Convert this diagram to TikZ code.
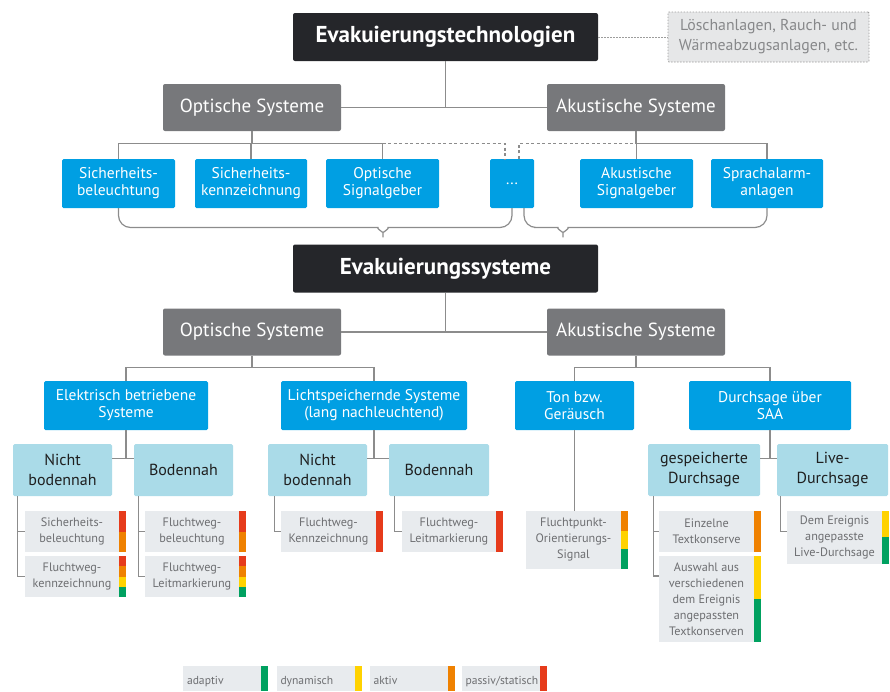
\documentclass[tikz,border=0pt]{standalone}
\usepackage{fontspec}
\setmainfont{PT Sans}
\usetikzlibrary{calc}
\definecolor{darkbox}{HTML}{25262A}
\definecolor{greybox}{HTML}{77787B}
\definecolor{techblue}{HTML}{009FE3}
\definecolor{lightbox}{HTML}{AADBE8}
\definecolor{leafbg}{HTML}{E8EBEE}
\definecolor{leaftext}{HTML}{6D6E71}
\definecolor{notebg}{HTML}{E6E7E8}
\definecolor{noteline}{HTML}{9D9D9C}
\definecolor{notetext}{HTML}{87888A}
\definecolor{connline}{HTML}{8C8C8C}
\definecolor{cred}{HTML}{E63B1B}
\definecolor{corange}{HTML}{EF8100}
\definecolor{cyellow}{HTML}{FFD200}
\definecolor{cgreen}{HTML}{00A160}
\newcommand{\ratebar}[4]{\fill[#4] ($(#1.north east)!#2!(#1.south east)$) rectangle ($(#1.north east)!#3!(#1.south east)+(7,0)$);}

\begin{document}
\begin{tikzpicture}[x=1pt,y=-1pt,
    dark/.style={fill=darkbox, rounded corners=2pt, text=white, font=\bfseries\fontsize{23}{26}\selectfont, minimum width=305pt, minimum height=48pt},
    grey/.style={fill=greybox, rounded corners=2pt, text=white, font=\fontsize{19}{22}\selectfont, minimum width=178pt, minimum height=47pt},
    tech/.style={fill=techblue, rounded corners=1.5pt, text=white, align=center, font=\fontsize{15.5}{17}\selectfont, minimum height=49pt, inner sep=1pt},
    sub/.style={fill=lightbox, rounded corners=1.5pt, text=black!88, align=center, font=\fontsize{16}{20}\selectfont, minimum height=52pt, minimum width=99pt, inner sep=1pt},
    leaf/.style={fill=leafbg, text=leaftext, align=center, font=\fontsize{12.2}{16}\selectfont, minimum width=94pt, minimum height=41pt, inner sep=0pt},
    key/.style={fill=leafbg, text=leaftext, font=\fontsize{11.6}{14}\selectfont, minimum width=77pt, minimum height=25pt, text width=70pt, inner xsep=4pt, inner ysep=0pt, text height=11pt, text depth=0pt, align=left},
    note/.style={fill=notebg, draw=noteline, line width=0.9pt, dash pattern=on 1.5pt off 1.5pt, rounded corners=1pt, text=notetext, align=center, font=\fontsize{15.8}{20}\selectfont, minimum width=201pt, minimum height=50pt},
    conn/.style={draw=connline, line width=1.2pt},
    dotline/.style={draw=noteline, line width=0.9pt, dash pattern=on 1.5pt off 1.5pt},
    dashline/.style={conn, dash pattern=on 3pt off 2.5pt}]
    \useasboundingbox (0,0) rectangle (890,691);
    % top: technologies
    \node[dark] (techn) at (445.5,37) {Evakuierungstechnologien};
    \node[note] (note) at (768.5,37) {Löschanlagen, Rauch- und\\Wärmeabzugsanlagen, etc.};
    \node[grey] (opt1) at (252,107.5) {Optische Systeme};
    \node[grey] (aku1) at (636,107.5) {Akustische Systeme};
    \node[tech, minimum width=113pt] (sb) at (118.5,183.5) {Sicherheits-\\beleuchtung};
    \node[tech, minimum width=112pt] (sk) at (251,183.5) {Sicherheits-\\kennzeichnung};
    \node[tech, minimum width=113pt] (os) at (382.5,183.5) {Optische\\Signalgeber};
    \node[tech, minimum width=44pt] (dots) at (512,183.5) {...};
    \node[tech, minimum width=113pt] (as) at (636.5,183.5) {Akustische\\Signalgeber};
    \node[tech, minimum width=112pt] (sa) at (767,183.5) {Sprachalarm-\\anlagen};
    % middle: systems
    \node[dark] (evak) at (445.5,268.5) {Evakuierungssysteme};
    \node[grey] (opt2) at (252,332) {Optische Systeme};
    \node[grey] (aku2) at (636,332) {Akustische Systeme};
    \node[tech, minimum width=164pt] (elek) at (126,405.5) {Elektrisch betriebene\\Systeme};
    \node[tech, minimum width=186pt] (licht) at (374,405.5) {Lichtspeichernde Systeme\\(lang nachleuchtend)};
    \node[tech, minimum width=119pt] (ton) at (574.5,405.5) {Ton bzw.\\Geräusch};
    \node[tech, minimum width=162pt] (durch) at (770,405.5) {Durchsage über\\SAA};
    \node[sub] (nb1) at (62.5,470) {Nicht\\bodennah};
    \node[sub] (bn1) at (183.5,470) {Bodennah};
    \node[sub] (nb2) at (317.5,470) {Nicht\\bodennah};
    \node[sub, minimum width=100pt] (bn2) at (439,470) {Bodennah};
    \node[sub, minimum width=112pt] (gesp) at (704,470) {gespeicherte\\Durchsage};
    \node[sub, minimum width=111pt] (live) at (832.5,470) {Live-\\Durchsage};
    % leaves
    \node[leaf] (l1) at (72,531.5) {Sicherheits-\\beleuchtung};
    \node[leaf] (l2) at (72,576.5) {Fluchtweg-\\kennzeichnung};
    \node[leaf] (l3) at (192,531.5) {Fluchtweg-\\beleuchtung};
    \node[leaf] (l4) at (192,576.5) {Fluchtweg-\\Leitmarkierung};
    \node[leaf, minimum width=95pt] (l5) at (328.5,531.5) {Fluchtweg-\\Kennzeichnung};
    \node[leaf] (l6) at (449,531.5) {Fluchtweg-\\Leitmarkierung};
    \node[leaf, minimum width=95pt, minimum height=58pt] (l7) at (573.5,540) {Fluchtpunkt-\\Orientierungs-\\Signal};
    \node[leaf, minimum width=95pt] (l8) at (706.5,531.5) {Einzelne\\Textkonserve};
    \node[leaf, minimum width=95pt, minimum height=86pt] (l9) at (706.5,599) {Auswahl aus\\verschiedenen\\dem Ereignis\\angepassten\\Textkonserven};
    \node[leaf, minimum width=95pt, minimum height=53pt] (l10) at (834.5,537.5) {Dem Ereignis\\angepasste\\Live-Durchsage};
    \ratebar{l1}{0}{0.5}{cred}
    \ratebar{l1}{0.5}{1}{corange}
    \ratebar{l2}{0}{0.25}{cred}
    \ratebar{l2}{0.25}{0.5}{corange}
    \ratebar{l2}{0.5}{0.75}{cyellow}
    \ratebar{l2}{0.75}{1}{cgreen}
    \ratebar{l3}{0}{0.5}{cred}
    \ratebar{l3}{0.5}{1}{corange}
    \ratebar{l4}{0}{0.25}{cred}
    \ratebar{l4}{0.25}{0.5}{corange}
    \ratebar{l4}{0.5}{0.75}{cyellow}
    \ratebar{l4}{0.75}{1}{cgreen}
    \ratebar{l5}{0}{1}{cred}
    \ratebar{l6}{0}{1}{cred}
    \ratebar{l7}{0}{0.345}{corange}
    \ratebar{l7}{0.345}{0.655}{cyellow}
    \ratebar{l7}{0.655}{1}{cgreen}
    \ratebar{l8}{0}{1}{corange}
    \ratebar{l9}{0}{0.5}{cyellow}
    \ratebar{l9}{0.5}{1}{cgreen}
    \ratebar{l10}{0}{0.49}{cyellow}
    \ratebar{l10}{0.49}{1}{cgreen}
    % legend
    \node[key] (lg1) at (222,678.5) {adaptiv};
    \node[key] (lg2) at (315.5,678.5) {dynamisch};
    \node[key] (lg3) at (408.5,678.5) {aktiv};
    \node[key] (lg4) at (500.5,678.5) {passiv/statisch};
    \ratebar{lg1}{0}{1}{cgreen}
    \ratebar{lg2}{0}{1}{cyellow}
    \ratebar{lg3}{0}{1}{corange}
    \ratebar{lg4}{0}{1}{cred}
    % connectors, top
    \draw[conn] (techn.south) -- (techn.south |- opt1.east);
    \draw[conn] (opt1.east) -- (aku1.west);
    \draw[dotline] (techn.east) -- (note.west);
    \draw[conn] (opt1.south) -- ++(0,12.5) coordinate (j1);
    \draw[conn] (sb.north) |- (j1) -| (os.north);
    \draw[conn] (sk.north |- j1) -- (sk.north);
    \draw[dashline] (os.north |- j1) -| ([xshift=-7]dots.north);
    \draw[conn] (aku1.south) -- ++(0,12.5) coordinate (j2);
    \draw[conn] (as.north) |- (j2) -| (sa.north);
    \draw[dashline] ([xshift=7]dots.north) |- (j2);
    \draw[conn, rounded corners=12pt] (sb.south) |- (366,227.5) .. controls (376,227.5) and (383,233) .. ([xshift=-62.5]evak.north) .. controls (383,233) and (390,227.5) .. (400,227.5) -| (dots.south);
    \draw[conn, rounded corners=12pt] ([xshift=12]dots.south) |- (546,227.5) .. controls (556,227.5) and (563,233) .. ([xshift=117.5]evak.north) .. controls (563,233) and (570,227.5) .. (580,227.5) -| (sa.south);
    % connectors, systems
    \draw[conn] (evak.south) -- (evak.south |- opt2.east);
    \draw[conn] (opt2.east) -- (aku2.west);
    \draw[conn] (opt2.south) -- ++(0,12) coordinate (j3);
    \draw[conn] (elek.north) |- (j3) -| (licht.north);
    \draw[conn] (aku2.south) -- ++(0,12) coordinate (j4);
    \draw[conn] (ton.north) |- (j4) -| (durch.north);
    \draw[conn] (elek.south) -- ++(0,28.5) coordinate (j5);
    \draw[conn] (nb1.east |- j5) -- (bn1.west |- j5);
    \draw[conn] (licht.south) -- ++(0,28.5) coordinate (j6);
    \draw[conn] (nb2.east |- j6) -- (bn2.west |- j6);
    \draw[conn] (durch.south) -- ++(0,28.5) coordinate (j7);
    \draw[conn] (gesp.east |- j7) -- (live.west |- j7);
    \draw[conn] (ton.south) -- (ton.south |- l7.north);
    % connectors, leaves
    \draw[conn] ([xshift=5]nb1.south west) |- (l2.west);
    \draw[conn] ([xshift=5]nb1.south west |- l1.west) -- (l1.west);
    \draw[conn] ([xshift=5]bn1.south west) |- (l4.west);
    \draw[conn] ([xshift=5]bn1.south west |- l3.west) -- (l3.west);
    \draw[conn] ([xshift=7]nb2.south west) |- (l5.west);
    \draw[conn] ([xshift=6]bn2.south west) |- (l6.west);
    \draw[conn] ([xshift=6]gesp.south west) |- ([yshift=23]l9.west);
    \draw[conn] ([xshift=6]gesp.south west |- l8.west) -- (l8.west);
    \draw[conn] ([xshift=4]live.south west) |- ([yshift=6]l10.west);
\end{tikzpicture}
\end{document}
